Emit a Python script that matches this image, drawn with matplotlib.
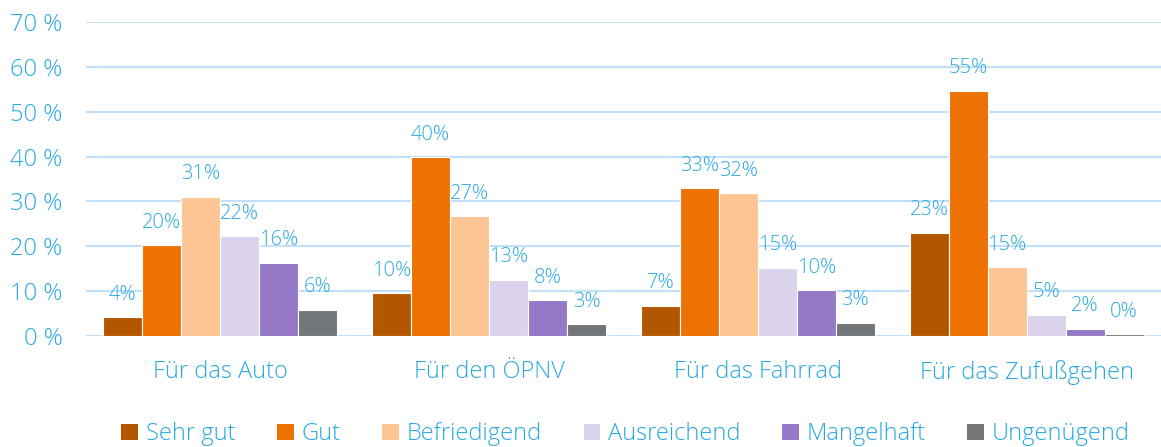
import matplotlib
matplotlib.use("Agg")
import matplotlib.pyplot as plt
import numpy as np

plt.rcParams['font.family'] = ['Open Sans', 'DejaVu Sans']
plt.rcParams['font.weight'] = 'light'

categories = ["Für das Auto", "Für den ÖPNV", "Für das Fahrrad", "Für das Zufußgehen"]
series_names = ["Sehr gut", "Gut", "Befriedigend", "Ausreichend", "Mangelhaft", "Ungenügend"]
sehr_gut = [4.2, 9.6, 6.8, 23.0]
gut = [20.2, 39.8, 33.0, 54.7]
befriedigend = [31.0, 26.7, 31.8, 15.3]
ausreichend = [22.3, 12.6, 15.2, 4.8]
mangelhaft = [16.4, 8.0, 10.2, 1.6]
ungenuegend = [5.9, 2.6, 3.0, 0.4]
y_ticks = [0, 10, 20, 30, 40, 50, 60, 70]
y_tick_labels = ["0 %", "10 %", "20 %", "30 %", "40 %", "50 %", "60 %", "70 %"]

series = [sehr_gut, gut, befriedigend, ausreichend, mangelhaft, ungenuegend]
colors = ["#b35600", "#ed7203", "#fdc593", "#dbd3ec", "#9578c7", "#737678"]
blue = "#2aa9e0"
grid_c = "#c4e0f8"

fig = plt.figure(figsize=(11.61, 4.47), dpi=100)
ax = fig.add_axes([0.074, 0.248, 0.926, 0.703])

x = np.arange(len(categories))
n = len(series)
w = 0.145
for i, (vals, c, name) in enumerate(zip(series, colors, series_names)):
    pos = x + (i - (n - 1) / 2) * w
    ax.bar(pos, vals, width=w, color=c, edgecolor="white", linewidth=0.8, label=name, zorder=3)
    for p, v in zip(pos, vals):
        ax.annotate(f"{v:.0f}%", (p, v), xytext=(0, 9), textcoords="offset points",
                    ha="center", va="bottom", color=blue, fontsize=14.5, zorder=4)

ax.set_xlim(-0.5, 3.5)
ax.set_ylim(0, 70)
ax.set_yticks(y_ticks)
ax.set_yticklabels(y_tick_labels)
ax.set_xticks(x)
ax.set_xticklabels(categories)
ax.tick_params(axis="both", length=0, colors=blue, labelsize=17)
ax.tick_params(axis="x", pad=17)
ax.tick_params(axis="y", pad=17)
for s in ax.spines.values():
    s.set_visible(False)
ax.yaxis.grid(True, color=grid_c, linewidth=1.5, zorder=0)
ax.set_axisbelow(True)

leg = fig.legend(loc="center", bbox_to_anchor=(0.539, 0.029), ncol=6, frameon=False,
                 fontsize=17, handlelength=0.7, handleheight=0.7, handletextpad=0.35,
                 columnspacing=1.75, labelcolor=blue)
for h in leg.legend_handles:
    h.set_edgecolor("none")

fig.savefig("out.png", dpi=100)
